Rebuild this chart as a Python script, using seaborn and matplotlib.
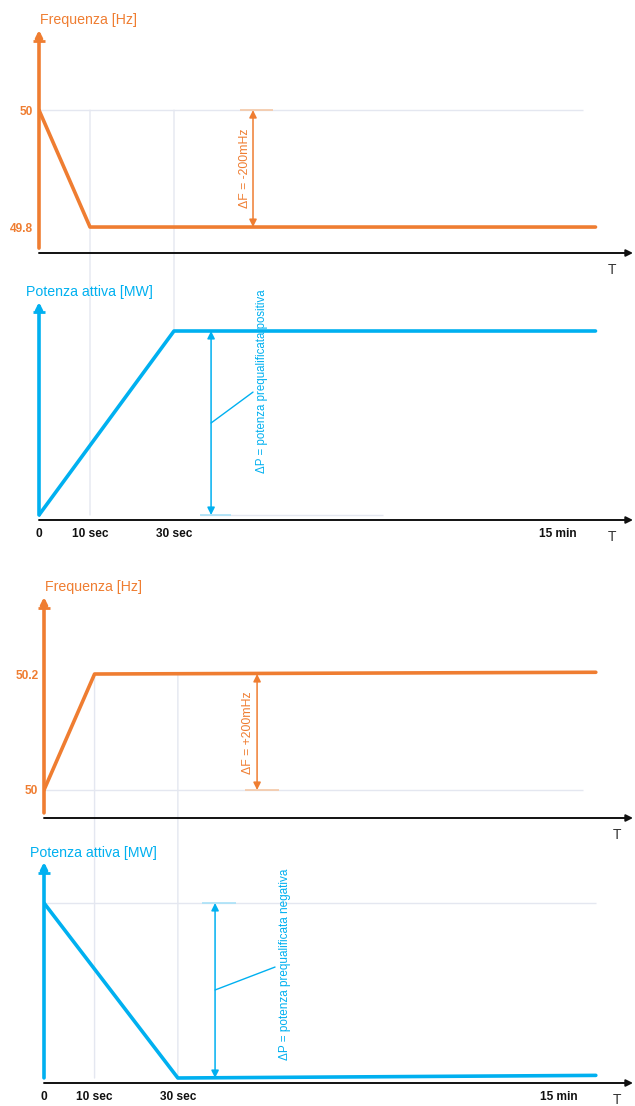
import numpy as np
import matplotlib
matplotlib.use("Agg")
import matplotlib.pyplot as plt
from matplotlib.patches import ConnectionPatch
import seaborn as sns

# ---------------- data ----------------
tick_times = [0, 10, 30, 900]                 # seconds
tick_labels = ["0", "10 sec", "30 sec", "15 min"]

# Case 1: under-frequency -> power increase
t_freq_down = [0, 10, 1050]
freq_down = [50.0, 49.8, 49.8]
t_power_up = [0, 30, 1050]
power_up = [0.0, 1.0, 1.0]

# Case 2: over-frequency -> power decrease
t_freq_up = [0, 10, 1050]
freq_up = [50.0, 50.2, 50.203]
t_power_down = [0, 30, 1050]
power_down = [1.0, 0.0, 0.015]

freq_ticks_down = [49.8, 50.0]
freq_ticklabels_down = ["49.8", "50"]
freq_ticks_up = [50.0, 50.2]
freq_ticklabels_up = ["50", "50.2"]

# ---------------- style ----------------
sns.set_style("white")
plt.rcParams["font.family"] = ["Liberation Sans", "DejaVu Sans"]

ORANGE = "#EF7D31"
BLUE = "#00B0F0"
GRID = "#E4E7F0"
LIGHT_OR = "#F5C8A6"
LIGHT_BL = "#A9E1F8"
AXIS = "#111111"

W, H = 635, 1106
fig = plt.figure(figsize=(W / 100, H / 100), dpi=100)
fig.patch.set_facecolor("white")


def axes_px(left, top, right, bottom):
    ax = fig.add_axes([left / W, 1 - bottom / H, (right - left) / W, (bottom - top) / H])
    ax.set_facecolor("none")
    for s in ax.spines.values():
        s.set_visible(False)
    return ax


# piecewise time scale (schematic, non-linear axis)
KNOT_T = [0, 10, 30, 900, 1200]
KNOT_P = [0, 51, 135, 519, 594]


def fwd(t):
    return np.interp(t, KNOT_T, KNOT_P)


def inv(p):
    return np.interp(p, KNOT_P, KNOT_T)


def setup(ax, ylo, yhi, color, title, title_dx, title_dy, vline_from, xlab_x):
    ax.set_xscale("function", functions=(fwd, inv))
    ax.set_xlim(0, 1200)
    ax.set_ylim(ylo, yhi)
    ax.grid(False)
    # x axis with arrow
    ax.annotate("", xy=(1, 0), xytext=(0, 0), xycoords="axes fraction",
                arrowprops=dict(arrowstyle="-|>", color=AXIS, lw=1.4,
                                mutation_scale=10, shrinkA=0, shrinkB=0))
    # y axis with arrow
    ax.annotate("", xy=(0, 1), xytext=(0, vline_from), xycoords="axes fraction",
                arrowprops=dict(arrowstyle="-|>", color=color, lw=2.6,
                                mutation_scale=9, shrinkA=0, shrinkB=0))
    ax.plot([0], [0.952], marker="_", ms=9, mew=2, color=color,
            transform=ax.transAxes, clip_on=False)
    ax.annotate(title, xy=(0, 1), xycoords="axes fraction", xytext=(title_dx, title_dy),
                textcoords="offset points", ha="left", va="bottom",
                color=color, fontsize=10.2)
    ax.set_xlabel("T", fontsize=10, color="#333333")
    ax.xaxis.set_label_coords(xlab_x, -0.045)
    ax.tick_params(axis="both", length=0)


ARROW = dict(arrowstyle="<|-|>", lw=1.1, mutation_scale=11, shrinkA=0, shrinkB=0)

# ---------------- panel 1: frequency drop ----------------
ax1 = axes_px(39, 30, 633, 253)
sns.lineplot(x=t_freq_down, y=freq_down, ax=ax1, color=ORANGE, lw=2.6)
setup(ax1, 49.7556, 50.137, ORANGE, "Frequenza [Hz]", 0.5, 2, 0.022, 0.965)
ax1.set_xticks([])
ax1.set_yticks(freq_ticks_down, freq_ticklabels_down)
ax1.tick_params(axis="y", pad=4, labelcolor=ORANGE, labelsize=8.6)
for lab in ax1.get_yticklabels():
    lab.set_fontweight("bold")
ax1.hlines(50.0, 0, 1000, color=GRID, lw=1, zorder=0)
ax1.hlines(50.0, 180, 254, color=LIGHT_OR, lw=1.2, zorder=1)
ax1.annotate("", xy=(209, 50.0), xytext=(209, 49.8),
             arrowprops=dict(color=ORANGE, **ARROW))
ax1.text(191, 49.90, "ΔF = -200mHz", rotation=90, ha="center", va="center",
         color=ORANGE, fontsize=8.8)

# ---------------- panel 2: power increase ----------------
ax2 = axes_px(39, 302, 633, 520)
sns.lineplot(x=t_power_up, y=power_up, ax=ax2, color=BLUE, lw=2.6)
setup(ax2, -5 / 184, 213 / 184, BLUE, "Potenza attiva [MW]", -9.5, 2.5, 0.023, 0.965)
ax2.set_yticks([])
ax2.set_xticks(tick_times, tick_labels)
ax2.tick_params(axis="x", pad=6, labelsize=8.6, labelcolor=AXIS)
for lab in ax2.get_xticklabels():
    lab.set_fontweight("bold")
ax2.hlines(0.0, 89, 503, color=GRID, lw=1, zorder=0)
ax2.hlines(0.0, 89, 160, color=LIGHT_BL, lw=1.2, zorder=1)
ax2.annotate("", xy=(114, 1.0), xytext=(114, 0.0),
             arrowprops=dict(color=BLUE, **ARROW))
ax2.plot([114, 209], [0.5, 0.668], color=BLUE, lw=1)
ax2.text(229, 0.725, "ΔP = potenza prequalificata positiva", rotation=90,
         ha="center", va="center", color=BLUE, fontsize=8.3)

# ---------------- panel 3: frequency rise ----------------
ax3 = axes_px(44, 597, 633, 818)
sns.lineplot(x=t_freq_up, y=freq_up, ax=ax3, color=ORANGE, lw=2.6)
setup(ax3, 49.9517, 50.3328, ORANGE, "Frequenza [Hz]", 0.5, 2, 0.023, 0.973)
ax3.set_xticks([])
ax3.set_yticks(freq_ticks_up, freq_ticklabels_up)
ax3.tick_params(axis="y", pad=4, labelcolor=ORANGE, labelsize=8.6)
for lab in ax3.get_yticklabels():
    lab.set_fontweight("bold")
ax3.hlines(50.0, 0, 1000, color=GRID, lw=1, zorder=0)
ax3.hlines(50.0, 183, 262, color=LIGHT_OR, lw=1.2, zorder=1)
ax3.annotate("", xy=(211, 50.2), xytext=(211, 50.0),
             arrowprops=dict(color=ORANGE, **ARROW))
ax3.text(191, 50.098, "ΔF = +200mHz", rotation=90, ha="center", va="center",
         color=ORANGE, fontsize=8.8)

# ---------------- panel 4: power decrease ----------------
ax4 = axes_px(44, 862, 633, 1083)
sns.lineplot(x=t_power_down, y=power_down, ax=ax4, color=BLUE, lw=2.6)
setup(ax4, -5 / 175, 1 + 41 / 175, BLUE, "Potenza attiva [MW]", -10, 1.5, 0.023, 0.973)
ax4.set_yticks([])
ax4.set_xticks(tick_times, tick_labels)
ax4.tick_params(axis="x", pad=6, labelsize=8.6, labelcolor=AXIS)
for lab in ax4.get_xticklabels():
    lab.set_fontweight("bold")
ax4.hlines(1.0, 0, 1050, color=GRID, lw=1, zorder=0)
ax4.hlines(1.0, 86, 163, color=LIGHT_BL, lw=1.2, zorder=1)
ax4.annotate("", xy=(115, 1.0), xytext=(115, 0.0),
             arrowprops=dict(color=BLUE, **ARROW))
ax4.plot([115, 252], [0.503, 0.634], color=BLUE, lw=1)
ax4.text(275, 0.65, "ΔP = potenza prequalificata negativa", rotation=90,
         ha="center", va="center", color=BLUE, fontsize=8.5)

# ---------------- vertical guide lines across panels ----------------
for (axA, yA, axB, yB, t) in [
    (ax1, 50.0, ax2, 0.0, 10),
    (ax1, 50.0, ax2, 1.0, 30),
    (ax3, 50.2, ax4, 0.0, 10),
    (ax3, 50.2, ax4, 0.0, 30),
]:
    cp = ConnectionPatch(xyA=(t, yA), coordsA=axA.transData,
                         xyB=(t, yB), coordsB=axB.transData,
                         color=GRID, lw=1, zorder=-1)
    fig.add_artist(cp)

fig.savefig("out.png", dpi=100, facecolor="white")
